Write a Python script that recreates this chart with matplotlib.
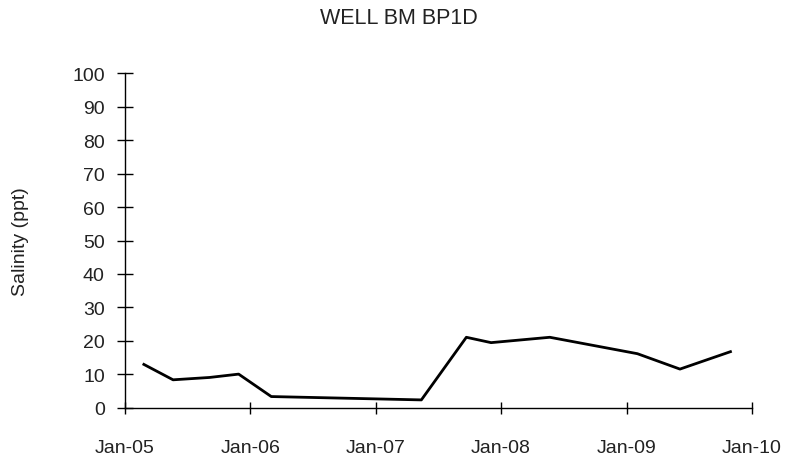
import matplotlib
matplotlib.use("Agg")
import matplotlib.pyplot as plt
import pandas as pd

# sample dates and salinity readings (ppt)
dates = ["2005-02-25", "2005-05-21", "2005-09-04", "2005-11-28", "2006-03-03",
         "2007-05-14", "2007-09-22", "2007-12-03", "2008-05-22", "2009-02-01",
         "2009-06-05", "2009-10-30"]
salinity = [13.0, 8.4, 9.1, 10.1, 3.4, 2.4, 21.1, 19.5, 21.1, 16.2, 11.6, 16.8]

tick_dates = ["2005-01-01", "2006-01-01", "2007-01-01", "2008-01-01", "2009-01-01", "2010-01-01"]
tick_labels = ["Jan-05", "Jan-06", "Jan-07", "Jan-08", "Jan-09", "Jan-10"]

plt.rcParams['font.family'] = ['Liberation Sans', 'DejaVu Sans']

fig = plt.figure(figsize=(7.93, 4.6), dpi=100)
ax = fig.add_axes([0.1576, 0.111, 0.7908, 0.728])

x = pd.to_datetime(dates)
ax.plot(x, salinity, color="black", linewidth=2)

ticks = pd.to_datetime(tick_dates)
ax.set_xlim(ticks[0], ticks[-1])
ax.set_xticks(ticks)
ax.set_xticklabels(tick_labels)
ax.set_ylim(0, 100)
ax.set_yticks(range(0, 101, 10))

for s in ["top", "right"]:
    ax.spines[s].set_visible(False)
for s in ["left", "bottom"]:
    ax.spines[s].set_linewidth(1.0)

ax.tick_params(axis="y", direction="inout", length=11, width=1, pad=9, labelsize=14, labelcolor="#222222")
ax.tick_params(axis="x", direction="inout", length=9, width=1, pad=18, labelsize=14, labelcolor="#222222")

ax.set_ylabel("Salinity (ppt)", fontsize=14, labelpad=31, color="#222222")
fig.text(0.503, 0.96, "WELL BM BP1D", ha="center", va="center", fontsize=15.5, color="#222222")

fig.savefig("out.png", dpi=100)
